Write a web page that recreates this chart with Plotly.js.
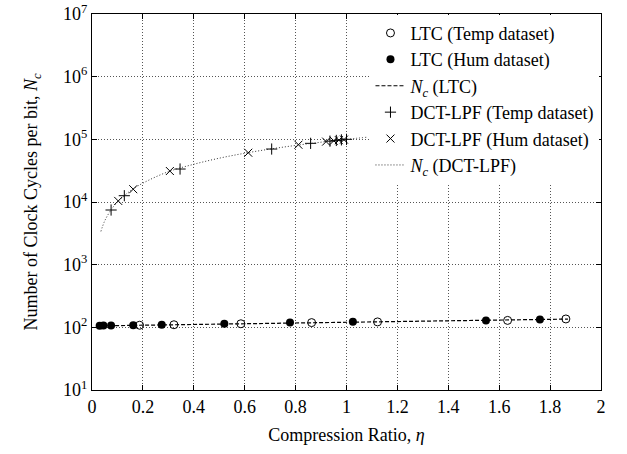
<!DOCTYPE html>
<html>
<head>
<meta charset="utf-8">
<script src="https://cdn.plot.ly/plotly-3.0.1.min.js"></script>
<style>html,body{margin:0;padding:0;background:#fff;}#chart{width:627px;height:454px;}</style>
</head>
<body>
<div id="chart"></div>
<script>
// LTC, Temp dataset (open circles)
const ltcTempX = [0.187, 0.322, 0.585, 0.863, 1.122, 1.633, 1.862];
const ltcTempY = [108, 110, 114, 119, 122, 129, 136];
// LTC, Hum dataset (filled circles)
const ltcHumX = [0.030, 0.045, 0.075, 0.162, 0.274, 0.520, 0.778, 1.025, 1.548, 1.760];
const ltcHumY = [106, 106.5, 107, 108, 110, 114, 119, 123, 129, 133];
// Nc (LTC) fit line
const ncLtcX = [0.02, 0.5, 1.0, 1.5, 1.87];
const ncLtcY = [105.5, 113, 121, 129, 135.5];
// DCT-LPF, Temp dataset (+)
const dctTempX = [0.075, 0.127, 0.346, 0.706, 0.859, 0.935, 0.96, 0.98, 1.0];
const dctTempY = [7450, 12600, 33600, 70000, 86300, 93500, 96000, 98000, 100000];
// DCT-LPF, Hum dataset (x)
const dctHumX = [0.103, 0.162, 0.306, 0.614, 0.811, 0.92, 0.95, 0.97, 0.99];
const dctHumY = [10400, 16000, 31200, 61100, 82000, 92000, 95000, 97000, 99000];
// Nc (DCT-LPF) fit curve
const ncDctX = [0.035, 0.05, 0.075, 0.1, 0.15, 0.2, 0.3, 0.4, 0.5, 0.6, 0.7, 0.8, 0.9, 1.0, 1.08];
const ncDctY = [3400, 5000, 7500, 10000, 15000, 20000, 30500, 40000, 50000, 60000, 70000, 80000, 90000, 100000, 108000];
// axis ticks
const yTickVals = [10, 100, 1000, 10000, 100000, 1000000, 10000000];
const yTickText = ['10<sup>1</sup>', '10<sup>2</sup>', '10<sup>3</sup>', '10<sup>4</sup>', '10<sup>5</sup>', '10<sup>6</sup>', '10<sup>7</sup>'];
const xTickVals = [0, 0.2, 0.4, 0.6, 0.8, 1, 1.2, 1.4, 1.6, 1.8, 2];
const xTickText = ['0', '0.2', '0.4', '0.6', '0.8', '1', '1.2', '1.4', '1.6', '1.8', '2'];

const fam = 'Liberation Serif, DejaVu Serif, serif';
const font = {family: fam, size: 18, color: '#000'};
const legFont = {family: fam, size: 18, color: '#000'};
const traces = [
  {x: ltcTempX, y: ltcTempY, name: 'LTC (Temp dataset)', mode: 'markers', type: 'scatter',
   marker: {symbol: 'circle-open', size: 8, color: '#000', line: {width: 1, color: '#000'}}},
  {x: ltcHumX, y: ltcHumY, name: 'LTC (Hum dataset)', mode: 'markers', type: 'scatter',
   marker: {symbol: 'circle', size: 8, color: '#000'}},
  {x: ncLtcX, y: ncLtcY, name: '<i>N<sub>c</sub></i> (LTC)', mode: 'lines', type: 'scatter',
   line: {color: '#000', width: 1.2, dash: '4px,2px'}},
  {x: dctTempX, y: dctTempY, name: 'DCT-LPF (Temp dataset)', mode: 'markers', type: 'scatter',
   marker: {symbol: 'cross-thin-open', size: 8, color: '#000', line: {width: 1, color: '#000'}}},
  {x: dctHumX, y: dctHumY, name: 'DCT-LPF (Hum dataset)', mode: 'markers', type: 'scatter',
   marker: {symbol: 'x-thin-open', size: 8, color: '#000', line: {width: 1, color: '#000'}}},
  {x: ncDctX, y: ncDctY, name: '<i>N<sub>c</sub></i> (DCT-LPF)', mode: 'lines', type: 'scatter',
   line: {color: '#333', width: 1, dash: '1px,2px', shape: 'spline'}}
];

const layout = {
  width: 627, height: 454,
  margin: {l: 92, r: 26, t: 14, b: 64},
  paper_bgcolor: '#fff', plot_bgcolor: '#fff',
  font: font,
  showlegend: true,
  legend: {x: 0.997, xanchor: 'right', y: 0.998, yanchor: 'top', bgcolor: '#fff',
           borderwidth: 0, font: legFont, tracegroupgap: 0},
  xaxis: {
    range: [0, 2], tickmode: 'array', tickvals: xTickVals, ticktext: xTickText,
    showgrid: true, gridcolor: '#555', griddash: '1px,2px', gridwidth: 1,
    zeroline: false, showline: true, linecolor: '#000', linewidth: 1, mirror: 'ticks',
    ticks: 'inside', ticklen: 5, tickcolor: '#000',
    tickfont: font,
    title: {text: 'Compression Ratio, <i>η</i>', font: font, standoff: 12}
  },
  yaxis: {
    type: 'log', range: [1, 7], tickmode: 'array', tickvals: yTickVals, ticktext: yTickText,
    showgrid: true, gridcolor: '#555', griddash: '1px,2px', gridwidth: 1,
    zeroline: false, showline: true, linecolor: '#000', linewidth: 1, mirror: 'ticks',
    ticks: 'inside', ticklen: 5, tickcolor: '#000',
    tickfont: font,
    title: {text: 'Number of Clock Cycles per bit, <i>N<sub>c</sub></i>', font: font, standoff: 20}
  }
};

Plotly.newPlot('chart', traces, layout, {displayModeBar: false, staticPlot: true});
</script>
</body>
</html>
